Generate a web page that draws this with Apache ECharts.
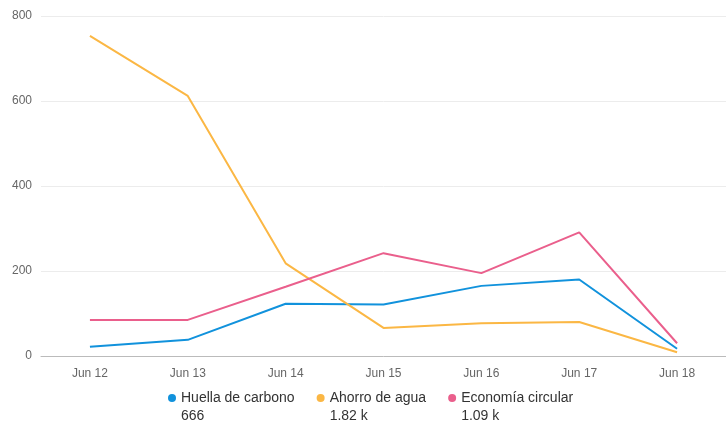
<!DOCTYPE html>
<html>
<head>
<meta charset="utf-8">
<script src="https://cdn.jsdelivr.net/npm/echarts@6/dist/echarts.min.js"></script>
<style>html,body{margin:0;padding:0;background:#fff}#c{width:726px;height:438px}</style>
</head>
<body>
<div id="c"></div>
<script>
var categories = ['Jun 12','Jun 13','Jun 14','Jun 15','Jun 16','Jun 17','Jun 18'];
var seriesNames = ['Huella de carbono','Ahorro de agua','Economía circular'];
var huella = [22, 38, 123, 121, 165, 180, 17];
var agua = [753, 612, 218, 66, 77, 80, 9];
var economia = [85, 85, 163, 242, 195, 291, 30];
var legendTotals = ['666', '1.82 k', '1.09 k'];
var yTicks = [0, 200, 400, 600, 800];
var colors = ['#1192dc', '#fbb744', '#ea5f8c'];

var chart = echarts.init(document.getElementById('c'));
var font = '"Liberation Sans", Arial, sans-serif';
var dataArr = [huella, agua, economia];
chart.setOption({
  animation: false,
  color: colors,
  textStyle: {fontFamily: font},
  grid: {left: 41, right: 0, top: 16, bottom: 82},
  legend: {
    top: 371,
    left: 168,
    icon: 'circle',
    itemWidth: 8,
    itemHeight: 8,
    itemGap: 22,
    padding: 0,
    formatter: function (name) {
      var i = seriesNames.indexOf(name);
      return ' \n' + name + '\n' + legendTotals[i];
    },
    textStyle: {fontSize: 14, color: '#333', lineHeight: 18, fontFamily: font}
  },
  xAxis: {
    type: 'category',
    data: categories,
    boundaryGap: true,
    axisLine: {lineStyle: {color: '#bbb'}},
    axisTick: {alignWithLabel: true, length: 5, lineStyle: {color: '#bbb'}},
    axisLabel: {color: '#666', fontSize: 12, margin: 12}
  },
  yAxis: {
    type: 'value',
    min: yTicks[0],
    max: yTicks[yTicks.length - 1],
    interval: yTicks[1] - yTicks[0],
    axisLine: {show: false},
    axisTick: {show: false},
    axisLabel: {color: '#666', fontSize: 12, margin: 9},
    splitLine: {lineStyle: {color: '#ececec'}}
  },
  series: seriesNames.map(function (n, i) {
    return {
      name: n,
      type: 'line',
      data: dataArr[i],
      symbol: 'none',
      lineStyle: {width: 2}
    };
  })
});
</script>
</body>
</html>
